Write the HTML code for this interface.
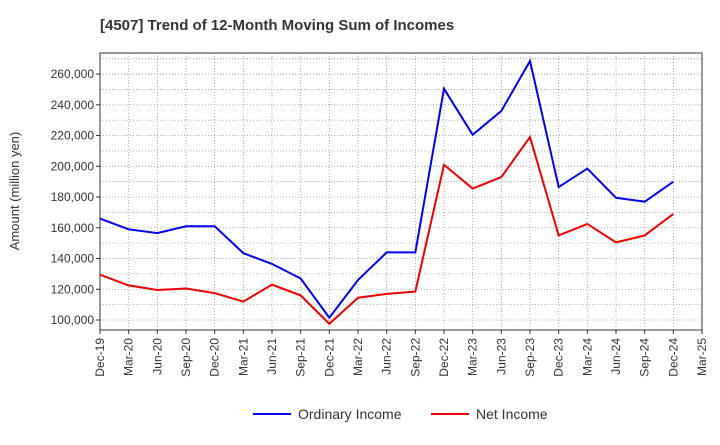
<!DOCTYPE html>
<html><head><meta charset="utf-8"><style>
body{margin:0;background:#fff;font-family:"Liberation Sans",sans-serif}
</style></head><body>
<svg id="c" width="720" height="440" xmlns="http://www.w3.org/2000/svg"></svg>
<script>
const categories=["Dec-19","Mar-20","Jun-20","Sep-20","Dec-20","Mar-21","Jun-21","Sep-21","Dec-21","Mar-22","Jun-22","Sep-22","Dec-22","Mar-23","Jun-23","Sep-23","Dec-23","Mar-24","Jun-24","Sep-24","Dec-24","Mar-25"];
const ordinaryIncome=[166000,159000,156500,161000,161000,143500,136500,127000,101500,126000,144000,144000,250500,220500,236000,268500,186500,198500,179500,177000,190000];
const netIncome=[129500,122500,119500,120500,117500,112000,123000,116000,97500,114500,117000,118500,201000,185500,193000,219000,155000,162500,150500,155000,169000];
const yTicks=[100000,120000,140000,160000,180000,200000,220000,240000,260000];
const svg=document.getElementById('c');const NS='http://www.w3.org/2000/svg';
const L=100,R=702,T=53,B=330,yMin=93500,yMax=273700;
const x=i=>L+i*(R-L)/(categories.length-1);
const y=v=>B-(v-yMin)/(yMax-yMin)*(B-T);
function mk(t,a,p){const e=document.createElementNS(NS,t);for(const k in a)e.setAttribute(k,a[k]);(p||svg).appendChild(e);return e;}
let e=mk('text',{x:100,y:30,'font-size':15,'font-weight':'bold',fill:'#333'});e.textContent='[4507]  Trend of 12-Month Moving Sum of Incomes';

const g=mk('g',{});
for(let v=100000;v<=270000;v+=10000)mk('line',{x1:L,x2:R,y1:y(v),y2:y(v),stroke:'#999','stroke-dasharray':'1,2','stroke-width':0.8},g);
categories.forEach((c,i)=>mk('line',{x1:x(i),x2:x(i),y1:T,y2:B,stroke:'#999','stroke-dasharray':'1,2','stroke-width':0.8},g));
e=mk('rect',{x:L,y:T,width:R-L,height:B-T,fill:'none',stroke:'#333'});
yTicks.forEach(v=>{mk('line',{x1:L-4,x2:L,y1:y(v),y2:y(v),stroke:'#333'});const t=mk('text',{x:L-6,y:y(v)+4,'font-size':12,'text-anchor':'end',fill:'#333'});t.textContent=v.toLocaleString('en-US');});
categories.forEach((c,i)=>{mk('line',{x1:x(i),x2:x(i),y1:B,y2:B+4,stroke:'#333'});const t=mk('text',{x:x(i)+4,y:B+8,'font-size':12,'text-anchor':'end',fill:'#333',transform:`rotate(-90 ${x(i)+4} ${B+8})`});t.textContent=c;});
e=mk('text',{x:19,y:191,'font-size':13,'text-anchor':'middle',fill:'#333',transform:'rotate(-90 19 191)'});e.textContent='Amount (million yen)';
function line(d,col,name){const p=mk('polyline',{points:d.map((v,i)=>x(i)+','+y(v)).join(' '),fill:'none',stroke:col,'stroke-width':2});}
line(ordinaryIncome,'#0000ee','ordinary-income-line');line(netIncome,'#ee0000','net-income-line');
function leg(x0,col,txt,name){const gg=mk('g',{});mk('line',{x1:x0,x2:x0+38,y1:414,y2:414,stroke:col,'stroke-width':2},gg);const t=mk('text',{x:x0+45,y:419,'font-size':14,fill:'#333'},gg);t.textContent=txt;}
leg(253,'#0000ee','Ordinary Income','legend-ordinary-income');leg(431,'#ee0000','Net Income','legend-net-income');
</script></body></html>
